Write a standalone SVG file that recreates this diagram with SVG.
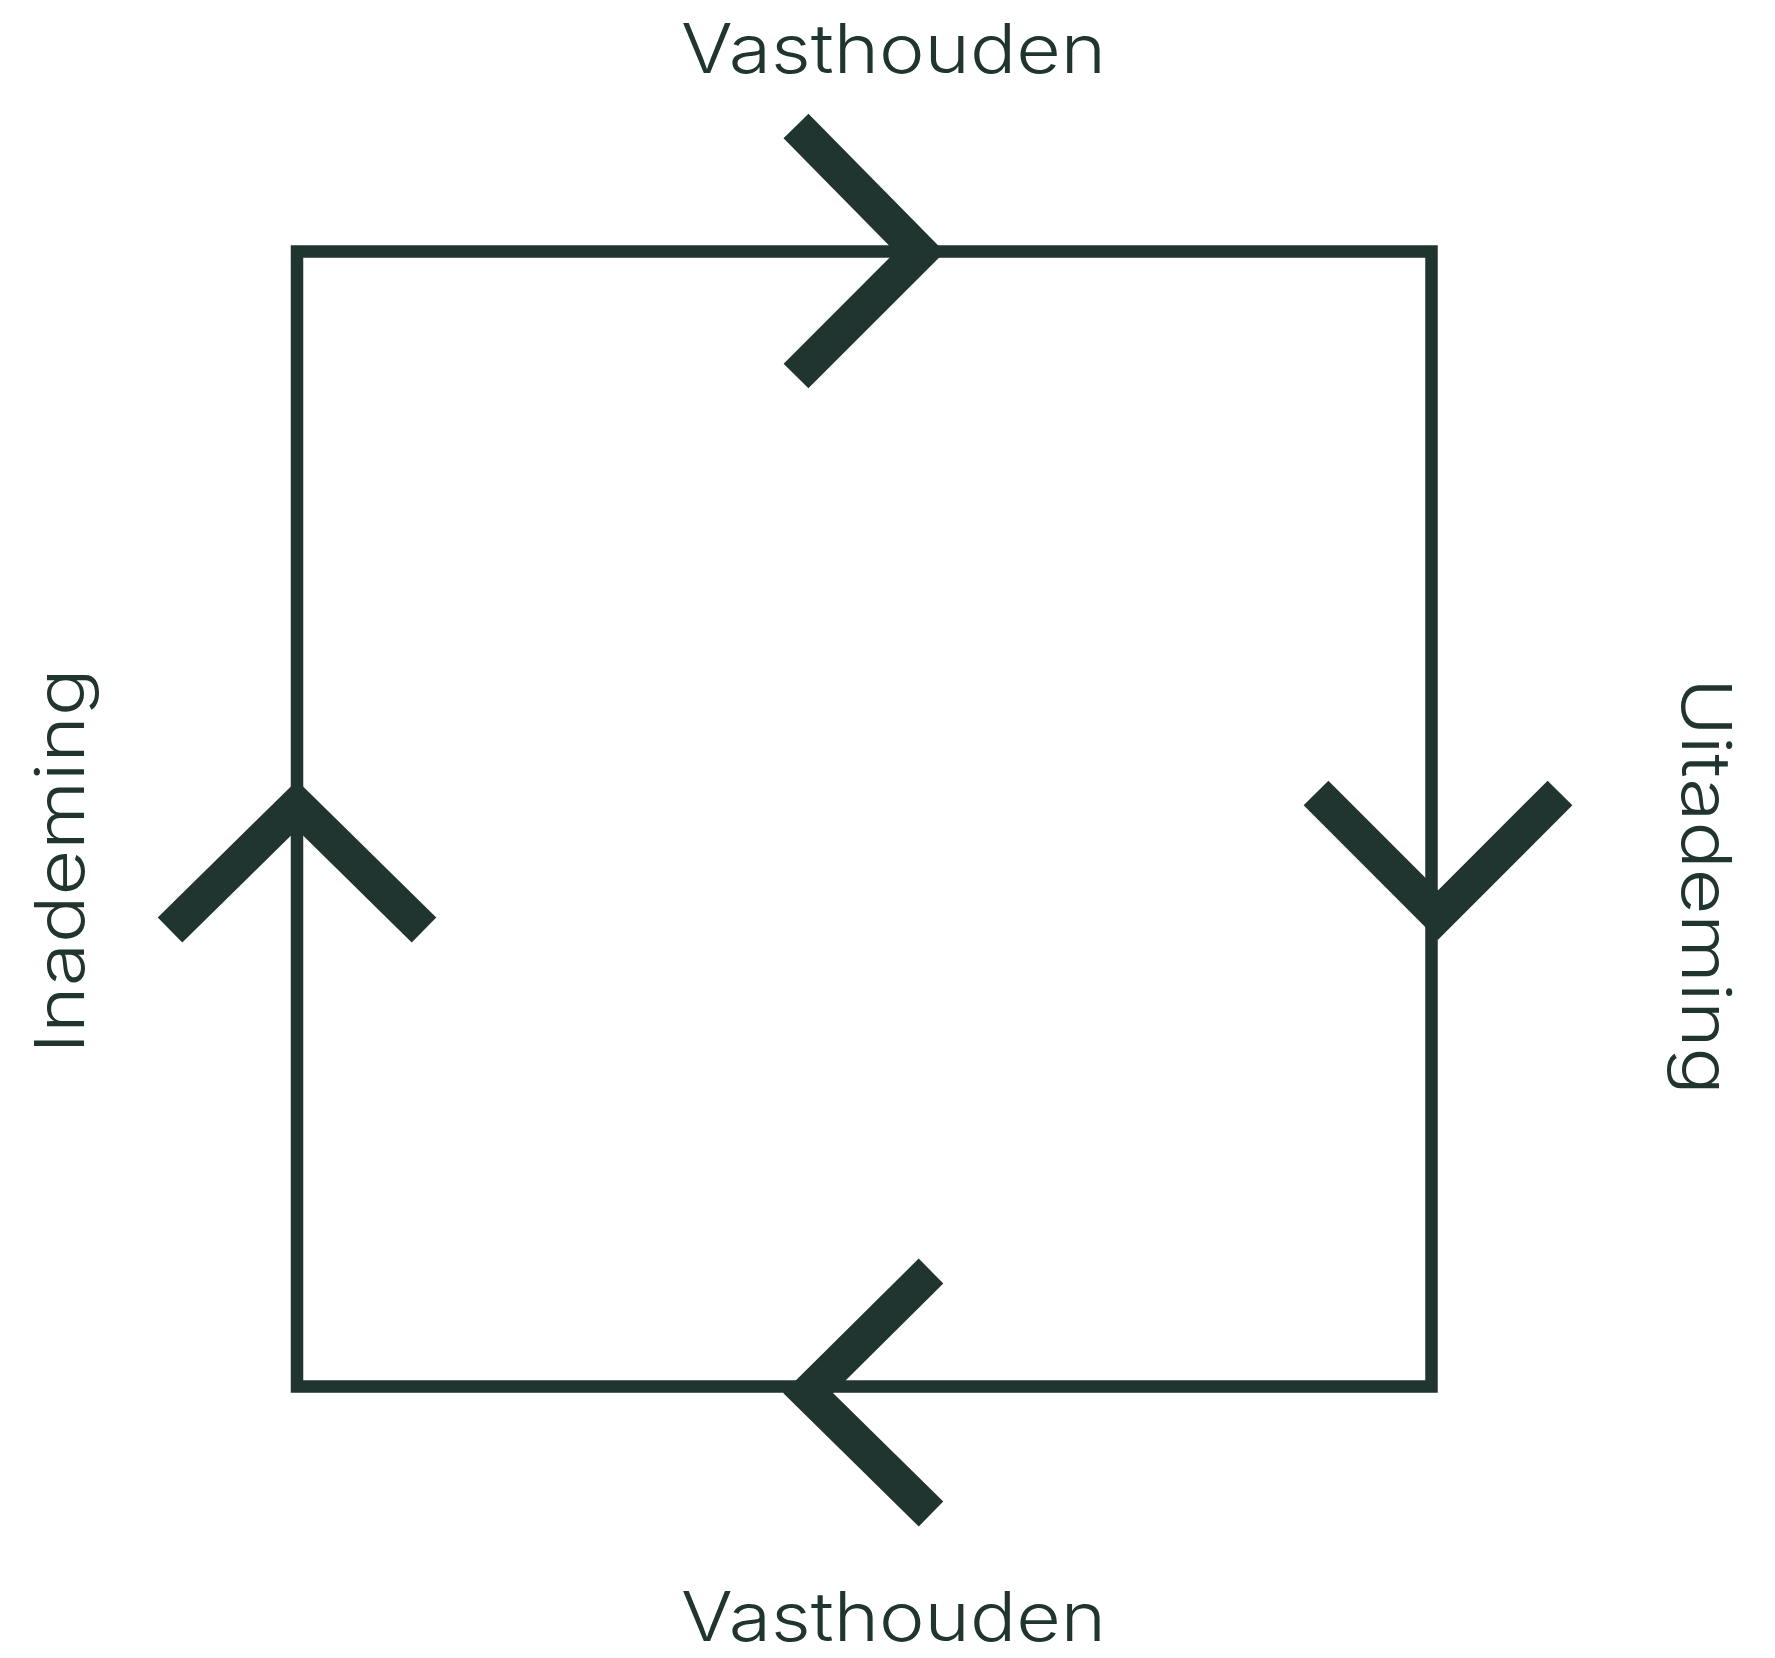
<svg xmlns="http://www.w3.org/2000/svg" width="1775" height="1658" viewBox="0 0 1775 1658">
<style>
.frame{fill:none;stroke:#213530;stroke-width:12.5}
.chev{fill:none;stroke:#213530;stroke-width:35;stroke-linejoin:miter;stroke-linecap:butt}
.lbl{font-family:"Inter","Lato","Liberation Sans",sans-serif;font-weight:300;font-size:68px;fill:#213530}
</style>
<rect width="1775" height="1658" fill="#ffffff"/>
<g id="connectors">
<rect class="frame" x="297" y="251.5" width="1134.5" height="1135"/>
<polyline class="chev" points="796,126 920,252 796,376"/>
<polyline class="chev" points="1316,793 1438,915 1560,793"/>
<polyline class="chev" points="931,1271 808,1393 931,1514"/>
<polyline class="chev" points="170,930 297,805 424,930"/>
</g>
<g id="label-top"><text class="lbl" x="893.5" y="73" text-anchor="middle" textLength="425" lengthAdjust="spacingAndGlyphs">Vasthouden</text></g>
<g id="label-bottom"><text class="lbl" x="893.5" y="1641" text-anchor="middle" textLength="425" lengthAdjust="spacingAndGlyphs">Vasthouden</text></g>
<g id="label-left"><text class="lbl" transform="translate(84,861) rotate(-90)" x="0" y="0" text-anchor="middle" textLength="385" lengthAdjust="spacingAndGlyphs">Inademing</text></g>
<g id="label-right"><text class="lbl" transform="translate(1682,886.5) rotate(90)" x="0" y="0" text-anchor="middle" textLength="417" lengthAdjust="spacingAndGlyphs">Uitademing</text></g>
</svg>
